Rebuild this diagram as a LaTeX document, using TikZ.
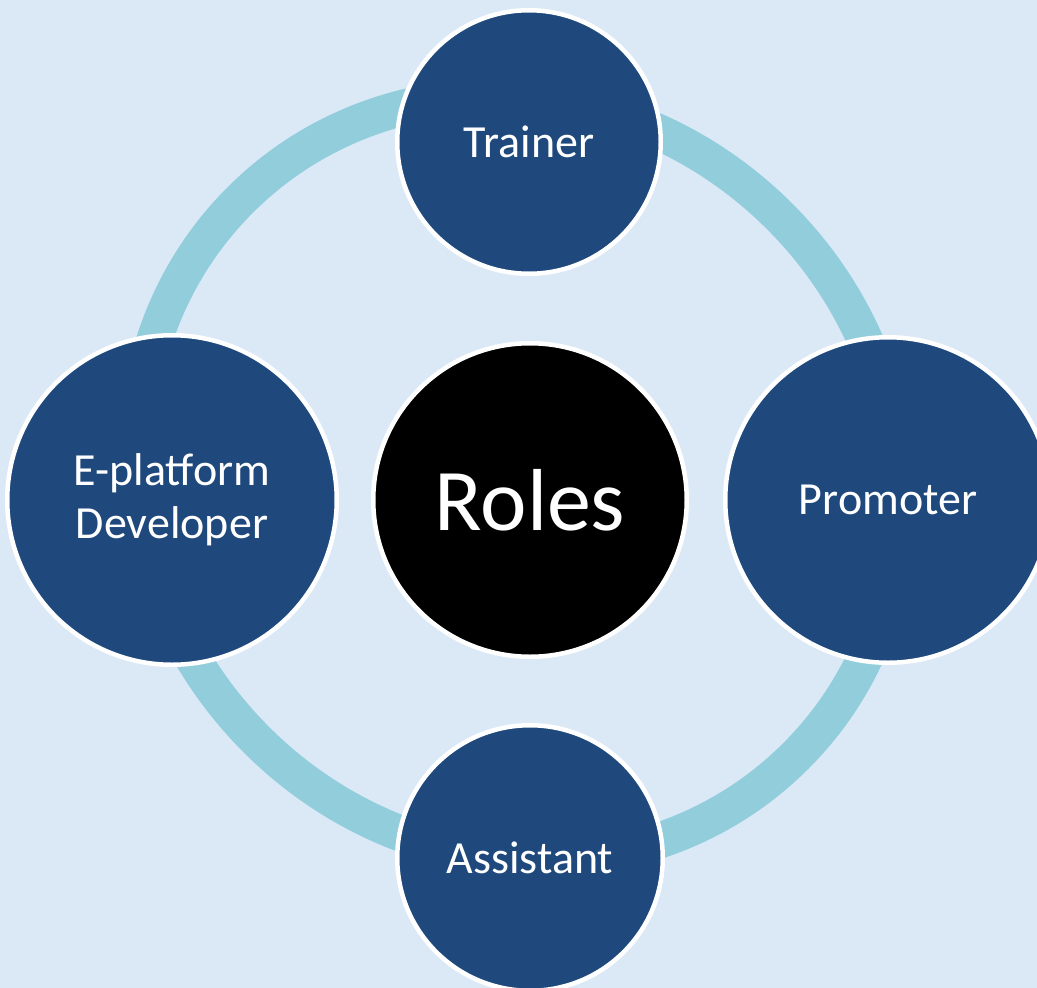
\documentclass[tikz,border=0pt]{standalone}
\usepackage{fontspec}
\setmainfont{Carlito}
\definecolor{paper}{RGB}{219,233,247}
\definecolor{ring}{RGB}{146,205,220}
\definecolor{roleblue}{RGB}{31,73,125}
\tikzset{
  role/.style={circle, draw=white, line width=4.5pt, fill=roleblue, text=white,
    align=center, inner sep=0pt, font=\fontsize{46}{53}\selectfont},
  hub/.style={role, fill=black, font=\fontsize{88}{100}\selectfont}
}
\begin{document}
\begin{tikzpicture}[x=1pt,y=-1pt]
\fill[paper] (0,0) rectangle (1037,988);
\useasboundingbox (0,0) rectangle (1037,988);
\coordinate (O) at (518,478);
\draw[ring, line width=36pt, rotate around={-45:(O)}] (O) ellipse [x radius=393, y radius=370];
\node[role, minimum size=263.5pt] (trainer)   at (529,142) {Trainer};
\node[role, minimum size=325.5pt] (promoter)  at (888,500) {Promoter};
\node[role, minimum size=329.5pt] (developer) at (172,500) {E-platform\\Developer};
\node[role, minimum size=265.5pt] (assistant) at (530,858) {Assistant};
\node[hub,  minimum size=313.5pt] (roles)     at (530,500) {Roles};
\end{tikzpicture}
\end{document}
